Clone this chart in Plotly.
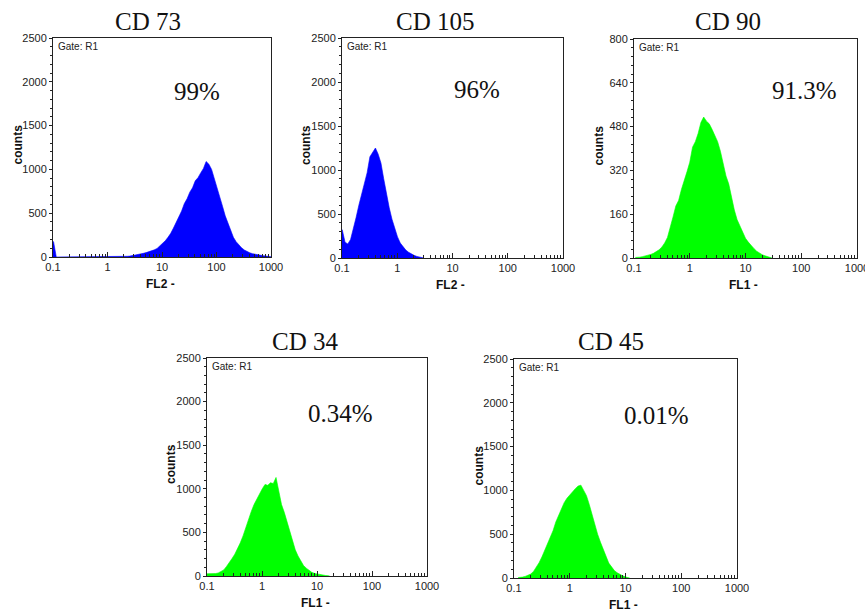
import plotly.graph_objects as go

# ---------------- data ----------------
STEP = 0.05  # channel width in decades

titles = ["CD 73", "CD 105", "CD 90", "CD 34", "CD 45"]
percents = ["99%", "96%", "91.3%", "0.34%", "0.01%"]
channels = ["FL2 -", "FL2 -", "FL1 -", "FL1 -", "FL1 -"]
colors = ["#0000ff", "#0000ff", "#00ff00", "#00ff00", "#00ff00"]
y_max = [2500, 2500, 800, 2500, 2500]
y_dtick = [500, 500, 160, 500, 500]
x_ticks = [0.1, 1, 10, 100, 1000]
x_ticktext = ["0.1", "1", "10", "100", "1000"]

# log10 of the centre of the first channel of each histogram
cd73_start = -0.99
cd73_counts = [175, 0, 0, 0, 0, 0, 0, 0, 0, 0,
               0, 0, 0, 0, 0, 0, 0, 0, 0, 0,
               0, 0, 0, 0, 0, 3,
               5, 8, 10, 15, 20, 28, 34, 42, 50, 58,
               66, 82, 98, 125, 160, 185, 225, 270, 330, 395,
               470, 525, 610, 665, 740, 790, 870, 905, 960, 1010,
               1090, 1060, 1000, 900, 800, 690, 580, 470, 380, 290,
               225, 175, 135, 105, 80, 62, 48, 38, 30, 22,
               18, 14, 10, 6, 3]

cd105_start = -0.995
cd105_counts = [320, 180, 160, 210, 320, 460, 600, 720, 860, 970,
                1150, 1200, 1250, 1180, 1080, 900, 720, 570, 440, 330,
                240, 170, 125, 90, 65, 45, 30, 18, 10, 5]

cd90_start = -0.95
cd90_counts = [2, 3, 5, 7, 10, 13, 17, 22, 30, 40,
               55, 75, 110, 150, 190, 210, 250, 280, 315, 350,
               405, 425, 455, 495, 515, 500, 490, 470, 450, 425,
               390, 345, 300, 270, 220, 175, 140, 115, 90, 72,
               58, 45, 35, 25, 18, 12, 8, 5, 3]

cd34_start = -0.995
cd34_counts = [25, 20, 22, 28, 35, 50, 70, 110, 150, 200,
               250, 310, 380, 460, 560, 660, 740, 820, 880, 950,
               1000, 1050, 1040, 1070, 1060, 1130, 960, 820, 730, 620,
               500, 380, 300, 230, 170, 120, 90, 65, 42, 30,
               22, 15, 10, 6, 3]

cd45_start = -0.90
cd45_counts = [5, 10, 18, 28, 45, 75, 120, 175, 240, 310,
               380, 460, 540, 640, 720, 800, 860, 910, 950, 990,
               1020, 1050, 1060, 1000, 940, 840, 720, 610, 500, 410,
               320, 250, 170, 120, 85, 60, 40, 25, 12, 5]

starts = [cd73_start, cd105_start, cd90_start, cd34_start, cd45_start]
counts = [cd73_counts, cd105_counts, cd90_counts, cd34_counts, cd45_counts]

# ---------------- layout (pixel boxes of the plot areas) ----------------
W, H = 865, 612


def fx(px):
    return px / W


def fy(py):
    return 1 - py / H


boxes = [  # x0, x1, ytop, ybottom in page pixels
    (53, 271, 38, 257),
    (342, 563, 38, 258),
    (634, 857, 39, 258),
    (207, 427, 358, 576),
    (514, 737, 359, 578),
]
title_pos = [(148, 22), (435, 22), (728, 22), (305, 341), (611, 341)]
pct_pos = [(197, 91), (477, 89), (804, 90), (340, 413), (656, 415)]

fig = go.Figure()
annotations = []
layout = {}

for i in range(5):
    n = i + 1
    xa = "xaxis" if n == 1 else f"xaxis{n}"
    ya = "yaxis" if n == 1 else f"yaxis{n}"
    xr = "x" if n == 1 else f"x{n}"
    yr = "y" if n == 1 else f"y{n}"
    x0, x1, yt, yb = boxes[i]

    c = counts[i]
    centres = [10 ** (starts[i] + STEP * k) for k in range(len(c))]
    xs = [10 ** (starts[i] - STEP / 2)] + centres + [10 ** (starts[i] + STEP * (len(c) - 0.5))]
    ys = [c[0]] + list(c) + [0]
    fig.add_trace(go.Scatter(
        x=xs, y=ys, mode="lines", line=dict(shape="linear", width=0.6, color=colors[i]),
        fill="tozeroy", fillcolor=colors[i], xaxis=xr, yaxis=yr, showlegend=False,
        hoverinfo="skip"))

    layout[xa] = dict(
        domain=[fx(x0), fx(x1)], anchor=yr, type="log", range=[-1, 3], automargin=False,
        ticklabeloverflow="allow",
        tickvals=x_ticks, ticktext=x_ticktext, ticks="inside", ticklen=5,
        tickcolor="#222", showgrid=False, zeroline=False,
        showline=True, linecolor="#222", linewidth=1, mirror=True,
        minor=dict(ticks="inside", ticklen=3, tickcolor="#222", showgrid=False,
                   tickvals=[m * 10 ** e for e in range(-1, 3) for m in range(2, 10)]),
        tickfont=dict(family="Liberation Sans, Arial", size=11, color="#222"),
        fixedrange=True)
    layout[ya] = dict(
        domain=[fy(yb), fy(yt)], anchor=xr, range=[0, y_max[i]], automargin=False,
        ticklabeloverflow="allow",
        dtick=y_dtick[i], ticks="outside", ticklen=3, tickcolor="#222",
        showgrid=False, zeroline=False,
        showline=True, linecolor="#222", linewidth=1, mirror=True,
        minor=dict(ticks="outside", ticklen=2, tickcolor="#222", dtick=y_dtick[i] / 5, showgrid=False),
        tickfont=dict(family="Liberation Sans, Arial", size=11, color="#222"),
        fixedrange=True)

    # panel title
    annotations.append(dict(text=titles[i], x=fx(title_pos[i][0]), y=fy(title_pos[i][1]),
                            xref="paper", yref="paper", showarrow=False, xanchor="center", yanchor="middle",
                            font=dict(family="Liberation Serif, Times New Roman", size=25, color="#111")))
    # percentage
    annotations.append(dict(text=percents[i], x=fx(pct_pos[i][0]), y=fy(pct_pos[i][1]),
                            xref="paper", yref="paper", showarrow=False, xanchor="center", yanchor="middle",
                            font=dict(family="Liberation Serif, Times New Roman", size=25, color="#111")))
    # gate label
    annotations.append(dict(text="Gate: R1", x=fx(x0 + 3), y=fy(yt + 1),
                            xref="paper", yref="paper", showarrow=False, xanchor="left", yanchor="top",
                            font=dict(family="Liberation Sans, Arial", size=10, color="#222")))
    # y axis title
    annotations.append(dict(text="<b>counts</b>", x=fx(x0 - 36), y=fy((yt + yb) / 2 - 3),
                            xref="paper", yref="paper", showarrow=False, textangle=-90,
                            xanchor="center", yanchor="middle",
                            font=dict(family="Liberation Sans, Arial", size=12, color="#111")))
    # x axis title
    annotations.append(dict(text="<b>" + channels[i] + "</b>", x=fx((x0 + x1) / 2 - 2), y=fy(yb + 27),
                            xref="paper", yref="paper", showarrow=False,
                            xanchor="center", yanchor="middle",
                            font=dict(family="Liberation Sans, Arial", size=12, color="#111")))

fig.update_layout(
    width=W, height=H, margin=dict(l=0, r=0, t=0, b=0, autoexpand=False),
    paper_bgcolor="white", plot_bgcolor="white",
    annotations=annotations, **layout)

fig.write_html("out.html", config={"displayModeBar": False},
               post_script="document.body.style.margin='0';document.body.style.overflow='hidden';")
